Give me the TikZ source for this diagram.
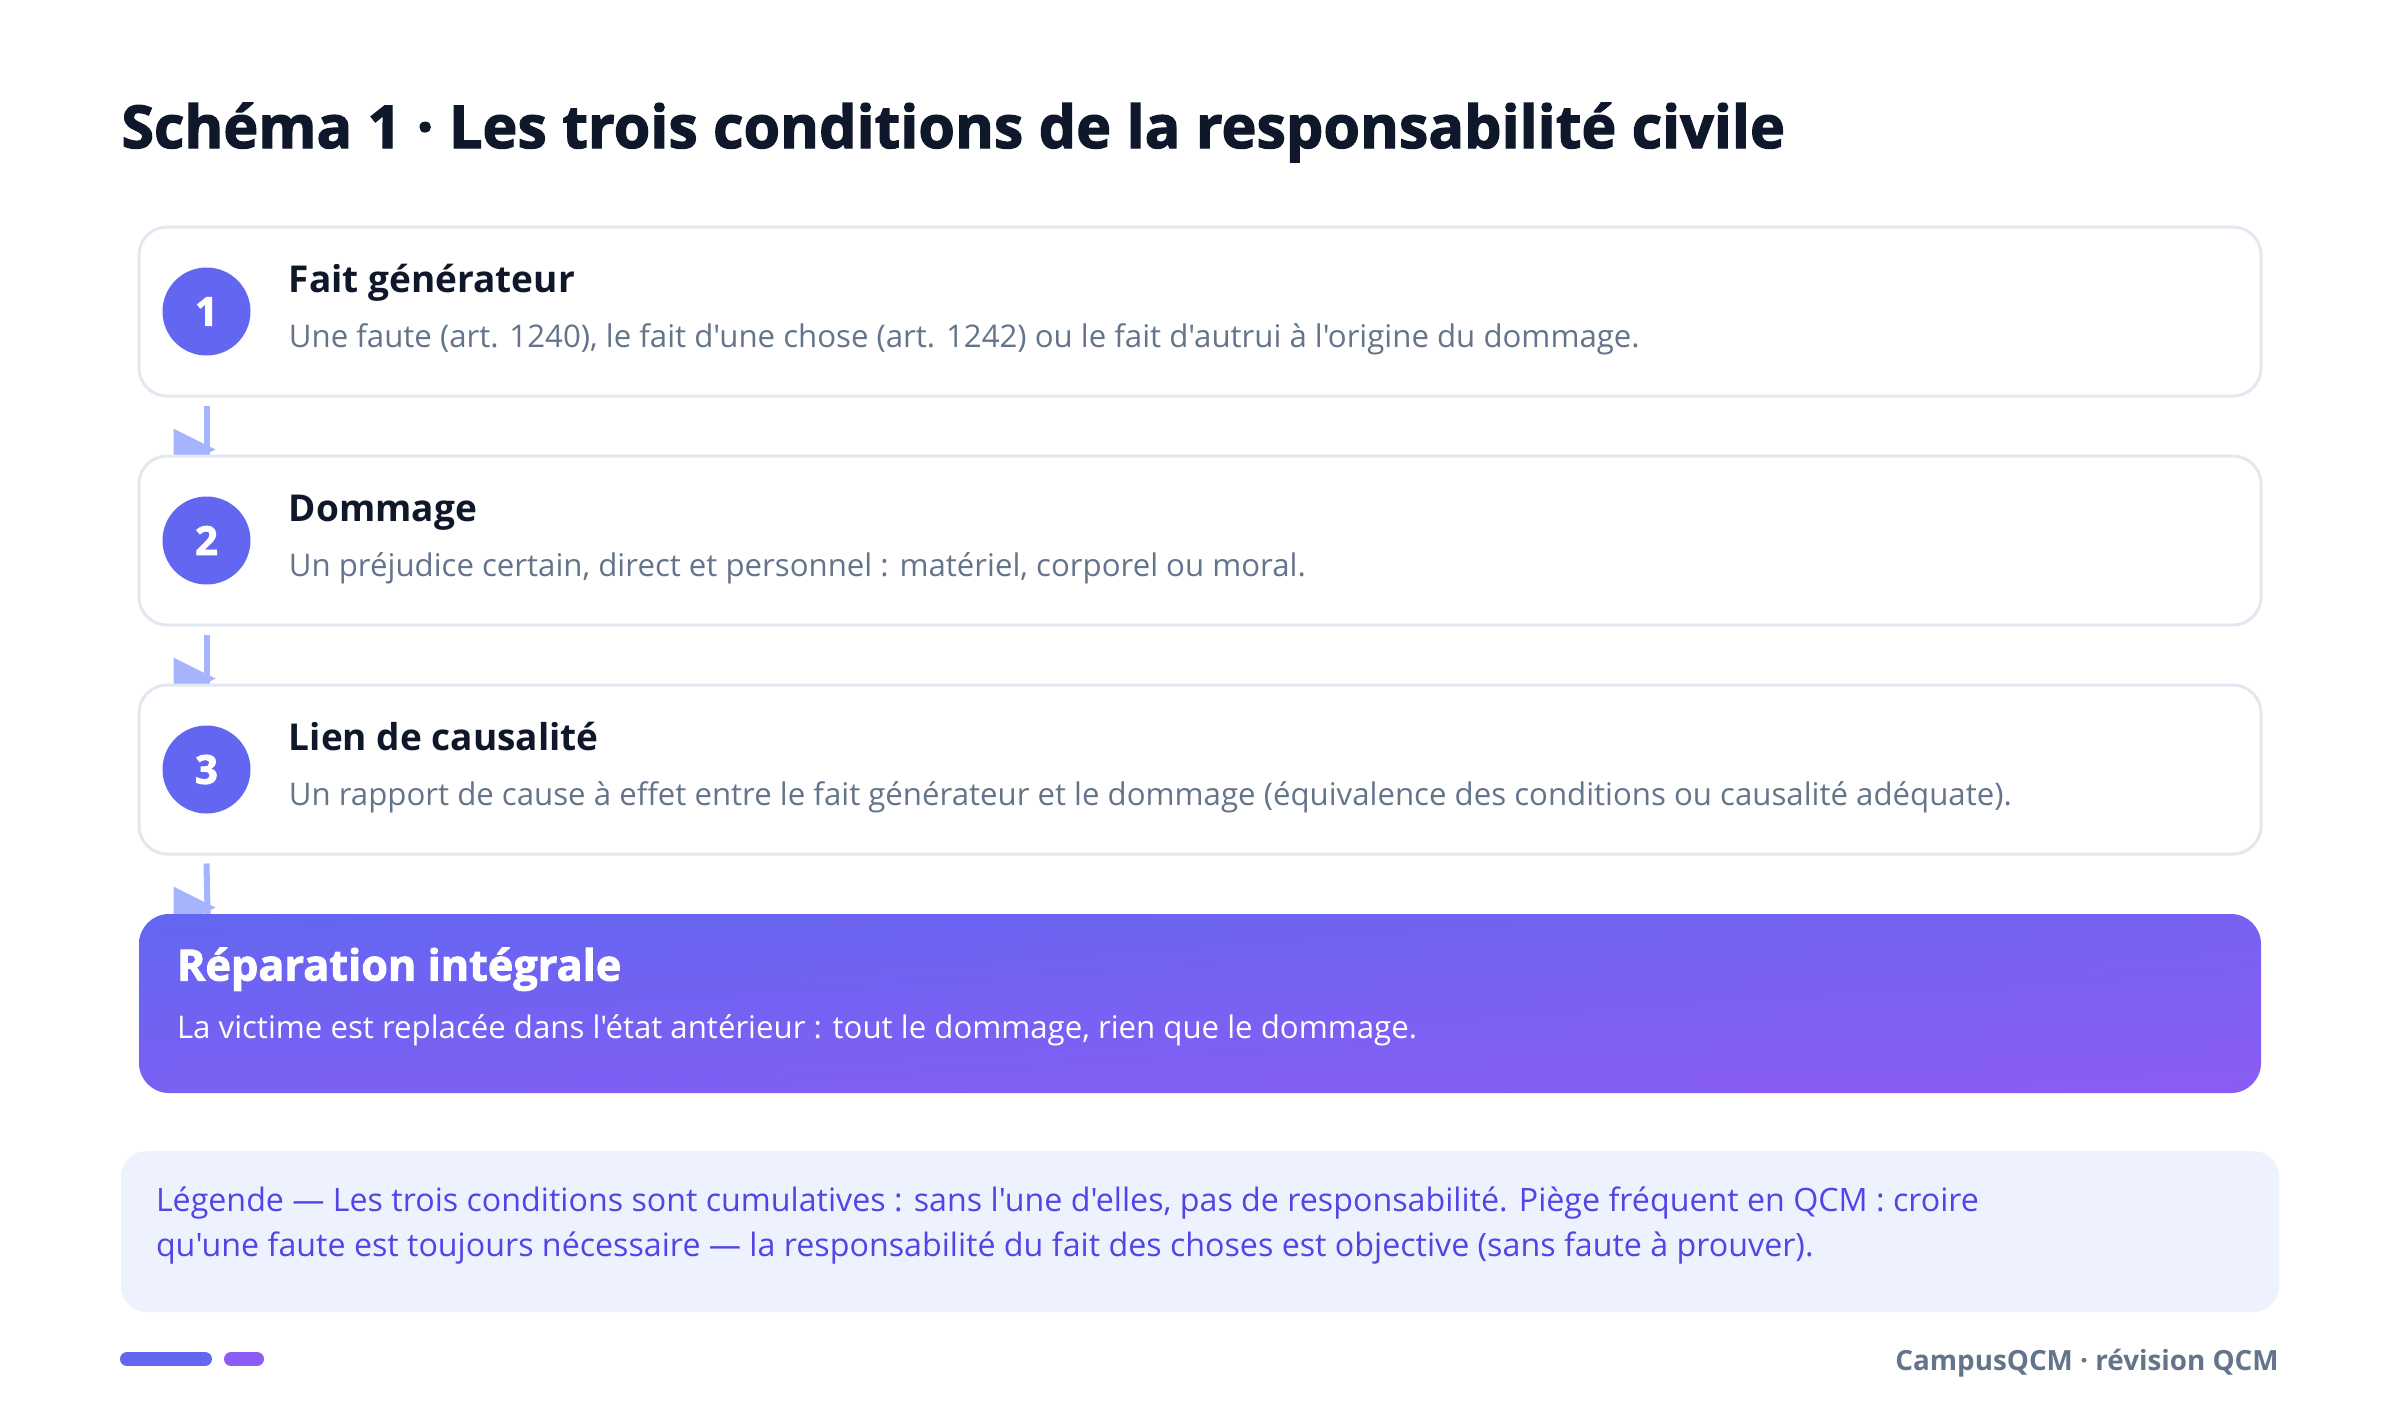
\documentclass[tikz,border=0pt]{standalone}
\usepackage{fontspec}
\setmainfont{Open Sans}[Ligatures=TeXOff]
\newfontfamily\heavyfont{Open Sans}[Ligatures=TeXOff, BoldFeatures={FakeBold=2}]
\usetikzlibrary{calc,shadings}
\definecolor{ink}{HTML}{0F172A}
\definecolor{slate}{HTML}{64748B}
\definecolor{edge}{HTML}{E2E8F0}
\definecolor{indigo}{HTML}{6366F1}
\definecolor{violet}{HTML}{8B5CF6}
\definecolor{midA}{HTML}{7762F2}
\definecolor{midB}{HTML}{7A60F3}
\definecolor{arrowc}{HTML}{A5B4FC}
\definecolor{legbg}{HTML}{EEF2FF}
\definecolor{legtx}{HTML}{4F46E5}
\pgfdeclarelayer{bg}
\pgfsetlayers{bg,main}
\tikzset{
  card/.style={draw=edge, line width=1.5pt, fill=white, rounded corners=14pt,
    minimum width=1061pt, minimum height=84.5pt, inner sep=0pt},
  numdot/.style={circle, fill=indigo, minimum size=44pt, inner sep=0pt,
    text=white, font=\fontsize{20}{24}\heavyfont\bfseries},
  headtx/.style={anchor=base west, inner sep=0pt, text=ink, font=\fontsize{18.5}{22}\selectfont\bfseries},
  desctx/.style={anchor=base west, inner sep=0pt, text=slate, font=\fontsize{15.6}{19}\selectfont},
  linkline/.style={draw=arrowc, line width=3pt},
  linkhead/.style={fill=arrowc},
}
\begin{document}
\begin{tikzpicture}[x=0.5pt, y=-0.5pt]
\useasboundingbox (0,0) rectangle (2400,1420);

% title
\node[anchor=base west, inner sep=0pt, text=ink, font=\fontsize{29.6}{35}\heavyfont\bfseries]
  (title) at (121,148) {Schéma 1 · Les trois conditions de la responsabilité civile};

% cards
\node[card] (b1) at (1200,311.5) {};
\node[card] (b2) at (1200,540.5) {};
\node[card] (b3) at (1200,769.5) {};
\node[shade, upper left=indigo, upper right=midA, lower left=midB, lower right=violet,
  rounded corners=15pt, minimum width=1061pt, minimum height=89.5pt, inner sep=0pt]
  (r) at (1200,1003.5) {};

% numbers
\node[numdot] (n1) at ($(b1.west)+(69,0)$) {1};
\node[numdot] (n2) at ($(b2.west)+(69,0)$) {2};
\node[numdot] (n3) at ($(b3.west)+(69,0)$) {3};

% texts
\node[headtx] (h1) at ($(b1.north west)+(151,67)$) {Fait générateur};
\node[desctx] (d1) at ($(b1.north west)+(151,122)$) {Une faute (art. 1240), le fait d'une chose (art. 1242) ou le fait d'autrui à l'origine du dommage.};
\node[headtx] (h2) at ($(b2.north west)+(151,67)$) {Dommage};
\node[desctx] (d2) at ($(b2.north west)+(151,122)$) {Un préjudice certain, direct et personnel : matériel, corporel ou moral.};
\node[headtx] (h3) at ($(b3.north west)+(151,67)$) {Lien de causalité};
\node[desctx] (d3) at ($(b3.north west)+(151,122)$) {Un rapport de cause à effet entre le fait générateur et le dommage (équivalence des conditions ou causalité adéquate).};
\node[anchor=base west, inner sep=0pt, text=white, font=\fontsize{21.6}{26}\heavyfont\bfseries]
  (hr) at ($(r.north west)+(38,67)$) {Réparation intégrale};
\node[desctx, text=white] (dr) at ($(r.north west)+(38,125)$) {La victime est replacée dans l'état antérieur : tout le dommage, rien que le dommage.};

% connectors
\begin{pgfonlayer}{bg}
\fill[white] (0,0) rectangle (2400,1420);
\foreach \a/\b in {b1/b2, b2/b3, b3/r}{
  \draw[linkline] ($(\a.south west)+(69,8)$) -- ($(\b.north west)+(69,2)$);
  \fill[linkhead] ($(\a.south west)+(36,31)$) -- ++(42,21) -- ++(-42,21) -- cycle;
}
\end{pgfonlayer}

% legend
\node[fill=legbg, rounded corners=13pt, minimum width=1079pt, minimum height=80.5pt, inner sep=0pt]
  (leg) at (1200,1231.5) {};
\node[anchor=base west, inner sep=0pt, text=legtx, font=\fontsize{16.1}{19}\selectfont] (l1) at ($(leg.north west)+(35,61)$) {Légende — Les trois conditions sont cumulatives : sans l'une d'elles, pas de responsabilité. Piège fréquent en QCM : croire};
\node[anchor=base west, inner sep=0pt, text=legtx, font=\fontsize{16.1}{19}\selectfont] (l2) at ($(leg.north west)+(35,106)$) {qu'une faute est toujours nécessaire — la responsabilité du fait des choses est objective (sans faute à prouver).};

% footer
\draw[indigo, line width=7pt, line cap=round] (127,1359) -- (205,1359);
\draw[violet, line width=7pt, line cap=round] (231,1359) -- (257,1359);
\node[anchor=base east, inner sep=0pt, text=slate, font=\fontsize{13.9}{17}\selectfont\bfseries]
  (foot) at (2279,1370) {CampusQCM · révision QCM};
\end{tikzpicture}
\end{document}
